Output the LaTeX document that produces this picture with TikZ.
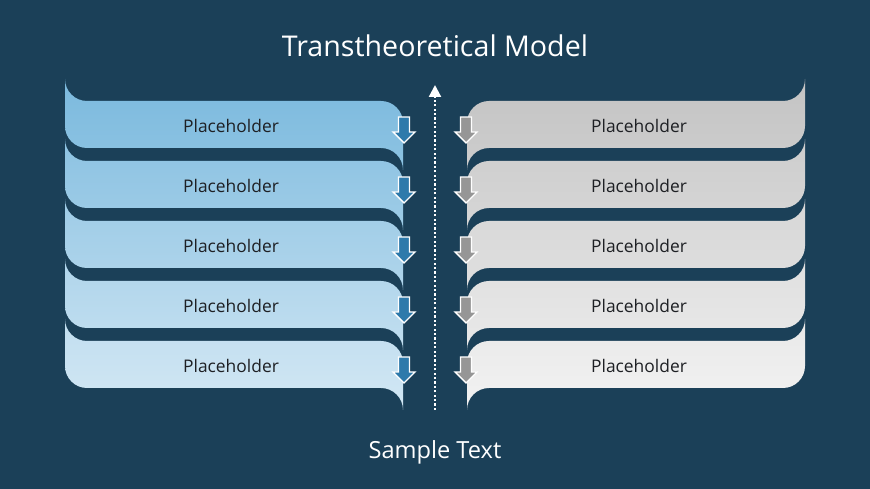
\documentclass[tikz,border=0pt]{standalone}
\usepackage{fontspec}
\setmainfont{Open Sans}
\usetikzlibrary{arrows.meta}
\definecolor{bgnavy}{RGB}{27,64,88}
\definecolor{blueTop}{RGB}{124,186,222}
\definecolor{blueBot}{RGB}{210,231,244}
\definecolor{greyTop}{RGB}{196,196,196}
\definecolor{greyBot}{RGB}{242,242,242}
\definecolor{arrowblue}{RGB}{46,122,171}
\definecolor{arrowgrey}{RGB}{150,150,150}
\definecolor{cardink}{RGB}{30,32,36}

\begin{document}
\begin{tikzpicture}[x=1pt, y=1pt,
  cardtext/.style={text=cardink, font=\fontsize{17.4}{20}\selectfont},
  heading/.style={text=white, font=\fontsize{28.6}{33}\selectfont},
  stagearrow/.style={draw=white, line width=1.4pt, line join=miter},
  axisline/.style={white, line width=2.2pt, dash pattern=on 2.2pt off 2.2pt,
    -{Triangle[width=12pt,length=12pt]}}]
  \fill[bgnavy] (0,0) rectangle (870,489);
  \useasboundingbox (0,0) rectangle (870,489);

  % left column, then the same cards mirrored on the right
  \foreach \sname/\sh/\sx/\ctop/\cbot/\ax in {L/0/1/blueTop/blueBot/arrowblue, R/870/-1/greyTop/greyBot/arrowgrey} {
    \begin{scope}[xshift=\sh pt, xscale=\sx]
      \foreach \k in {1,...,5} {
        \pgfmathsetmacro\T{388-60*(\k-1)}
        \pgfmathsetmacro\B{\T-47}
        \pgfmathtruncatemacro\pa{100-20*(\k-1)}
        \pgfmathtruncatemacro\pb{100-20*\k}
        \shade[top color=\ctop!\pa!\cbot, bottom color=\ctop!\pb!\cbot]
          (65,\T+22) arc[start angle=180, end angle=270, radius=22]
          -- (381,\T) arc[start angle=90, end angle=0, radius=22]
          -- (403,\B-22) arc[start angle=0, end angle=90, radius=22]
          -- (87,\B) arc[start angle=270, end angle=180, radius=22] -- cycle;
        \fill[\ax, stagearrow] (398.5,\T-16) -- (409.5,\T-16) -- (409.5,\T-31)
          -- (415,\T-31) -- (404,\T-42) -- (393,\T-31) -- (398.5,\T-31) -- cycle;
        \node[cardtext] (card\sname\k) at (231,\T-24.5) {Placeholder};
      }
    \end{scope}
  }

  \coordinate (axisbot) at (435,79);
  \coordinate (axistop) at (435,404);
  \draw[axisline] (axisbot) -- (axistop);

  \node[heading] (title) at (435,443) {Transtheoretical Model};
  \node[heading, font=\fontsize{23.6}{28}\selectfont] (sample) at (435,37) {Sample Text};
\end{tikzpicture}
\end{document}
